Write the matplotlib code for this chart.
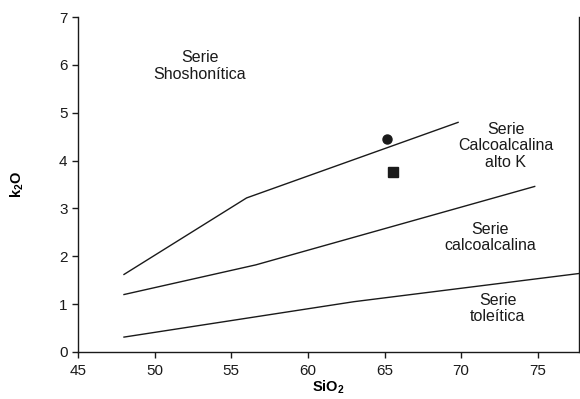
import matplotlib.pyplot as plt

plt.rcParams['font.family'] = ['Liberation Sans', 'DejaVu Sans']
plt.rcParams['mathtext.fontset'] = 'custom'
plt.rcParams['mathtext.rm'] = 'Liberation Sans'
plt.rcParams['mathtext.bf'] = 'Liberation Sans:bold'

# limites entre series (SiO2, K2O)
shosho_x = [48, 56, 69.8]
shosho_y = [1.62, 3.22, 4.80]
altok_x = [48, 56.6, 74.8]
altok_y = [1.20, 1.82, 3.46]
tole_x = [48, 63, 77.7]
tole_y = [0.31, 1.05, 1.64]

# muestras
circ_x, circ_y = [65.15], [4.45]
sq_x, sq_y = [65.55], [3.76]

etiquetas = ["Serie\nShoshonítica", "Serie\nCalcoalcalina\nalto K",
             "Serie\ncalcoalcalina", "Serie\ntoleítica"]
etiq_x = [52.95, 72.9, 71.9, 72.4]
etiq_y = [5.98, 4.31, 2.40, 0.90]

fig = plt.figure(figsize=(5.8, 3.99), dpi=100)
ax = fig.add_axes([0.1345, 0.118, 0.864, 0.839])

for xs, ys in [(shosho_x, shosho_y), (altok_x, altok_y), (tole_x, tole_y)]:
    ax.plot(xs, ys, color='#1a1a1a', lw=1.0, clip_on=False)

ax.plot(circ_x, circ_y, 'o', color='#1a1a1a', ms=6.5)
ax.plot(sq_x, sq_y, 's', color='#1a1a1a', ms=6.5)

for t, x, y in zip(etiquetas, etiq_x, etiq_y):
    ax.text(x, y, t, ha='center', va='center', fontsize=11.5, color='#1a1a1a',
            linespacing=1.1)

ax.set_xlim(45, 77.7)
ax.set_ylim(0, 7)
ax.set_xticks([45, 50, 55, 60, 65, 70, 75])
ax.set_yticks(range(8))
ax.tick_params(labelsize=11, length=4, width=1, colors='#1a1a1a')
ax.tick_params(axis='x', pad=5)
ax.spines['top'].set_visible(False)
for s in ['left', 'bottom', 'right']:
    ax.spines[s].set_linewidth(1.0)
    ax.spines[s].set_color('#1a1a1a')

ax.set_xlabel(r'SiO$_\mathbf{2}$', fontsize=10.5, fontweight='bold', labelpad=0)
ax.set_ylabel(r'k$_\mathbf{2}$O', fontsize=10.5, fontweight='bold', labelpad=24)

fig.savefig('out.png', dpi=100)
